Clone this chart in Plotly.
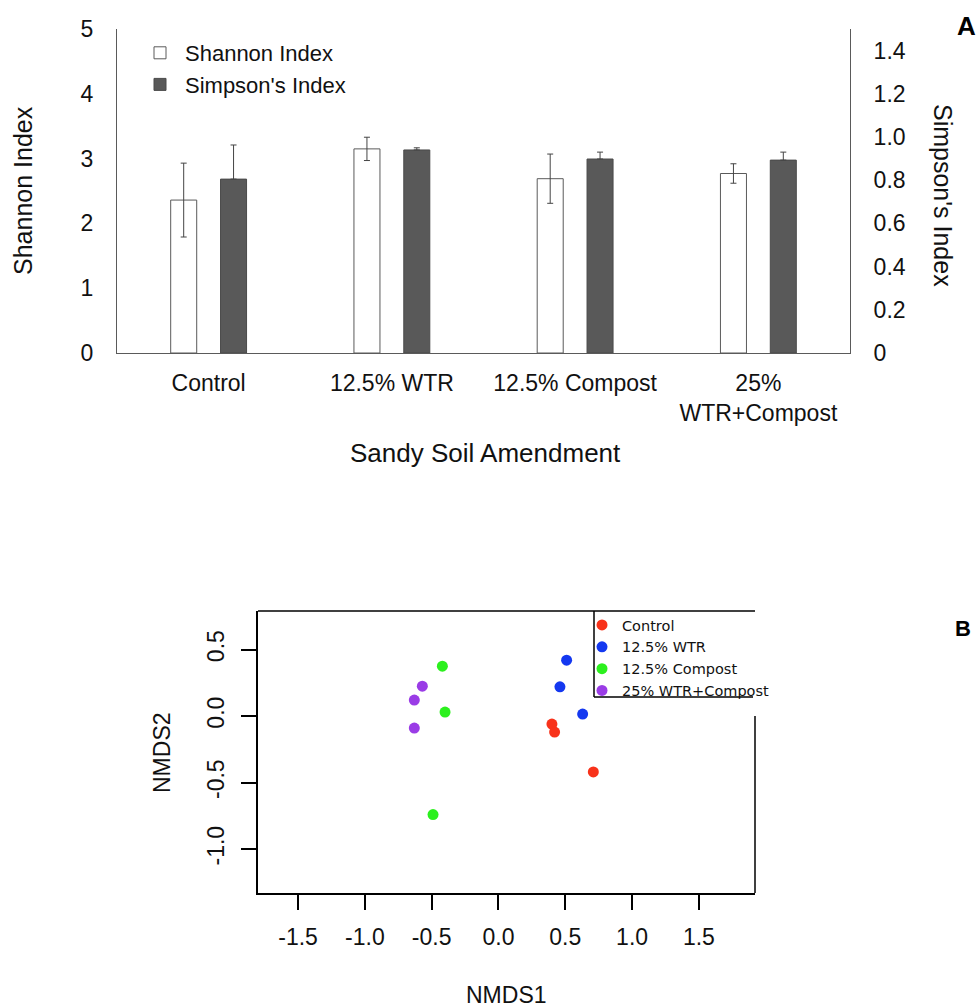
import plotly.graph_objects as go

# ---------------- Data: panel A ----------------
amendments = ["Control", "12.5% WTR", "12.5% Compost", "25% WTR+Compost"]
amendment_labels = ["Control", "12.5% WTR", "12.5% Compost", "25%<br>WTR+Compost"]
shannon = [2.36, 3.15, 2.69, 2.77]
shannon_err = [0.57, 0.18, 0.38, 0.15]
simpson = [0.805, 0.94, 0.898, 0.893]
simpson_err = [0.158, 0.01, 0.032, 0.037]
shannon_ticks = [0, 1, 2, 3, 4, 5]
simpson_ticks = [0, 0.2, 0.4, 0.6, 0.8, 1.0, 1.2, 1.4]
simpson_ticktext = ["0", "0.2", "0.4", "0.6", "0.8", "1.0", "1.2", "1.4"]

# ---------------- Data: panel B (NMDS) ----------------
groups = ["Control", "12.5% WTR", "12.5% Compost", "25% WTR+Compost"]
nmds1 = {
    "Control": [0.40, 0.42, 0.71],
    "12.5% WTR": [0.51, 0.46, 0.63],
    "12.5% Compost": [-0.42, -0.40, -0.49],
    "25% WTR+Compost": [-0.57, -0.63, -0.63],
}
nmds2 = {
    "Control": [-0.06, -0.12, -0.42],
    "12.5% WTR": [0.42, 0.22, 0.015],
    "12.5% Compost": [0.375, 0.03, -0.74],
    "25% WTR+Compost": [0.225, 0.12, -0.09],
}
group_colors = ["#f8321a", "#1438f0", "#2cf01e", "#9a3ce6"]
x_ticks = [-1.5, -1.0, -0.5, 0.0, 0.5, 1.0, 1.5]
x_ticktext = ["-1.5", "-1.0", "-0.5", "0.0", "0.5", "1.0", "1.5"]
y_ticks = [-1.0, -0.5, 0.0, 0.5]
y_ticktext = ["-1.0", "-0.5", "0.0", "0.5"]

W, H = 980, 1007
FONT = "Liberation Sans, Arial, sans-serif"
AX = "#5a5a5a"


def px_x(p):
    return p / W


def px_y(p):
    return 1 - p / H


fig = go.Figure()

# Panel A bars
fig.add_trace(go.Bar(
    x=amendments, y=shannon, name="Shannon Index",
    offset=-0.207, width=0.142,
    marker=dict(color="white", line=dict(color=AX, width=1)),
    error_y=dict(type="data", array=shannon_err, color="#444", thickness=1, width=3),
    xaxis="x", yaxis="y", legend="legend",
))
fig.add_trace(go.Bar(
    x=amendments, y=simpson, name="Simpson's Index",
    offset=0.065, width=0.142,
    marker=dict(color="#595959", line=dict(color="#4a4a4a", width=1)),
    error_y=dict(type="data", array=simpson_err, arrayminus=[0] * len(simpson_err),
                 symmetric=False, color="#444", thickness=1, width=3),
    xaxis="x", yaxis="y2", legend="legend",
))

# Panel B points
for g, c in zip(groups, group_colors):
    fig.add_trace(go.Scatter(
        x=nmds1[g], y=nmds2[g], mode="markers", name=g,
        marker=dict(color=c, size=11, line=dict(width=0)),
        xaxis="x2", yaxis="y3", legend="legend2",
    ))

tickfontA = dict(family=FONT, size=23, color="#111")
tickfontB = dict(family=FONT, size=23, color="#111")

fig.update_layout(
    template="none",
    width=W, height=H,
    margin=dict(l=0, r=0, t=0, b=0, autoexpand=False),
    paper_bgcolor="white", plot_bgcolor="rgba(0,0,0,0)",
    font=dict(family=FONT, color="#111"),
    barmode="overlay",
    xaxis=dict(
        domain=[px_x(117), px_x(850)], anchor="y", automargin=False,
        type="category", range=[-0.5, 3.5],
        tickvals=amendments, ticktext=amendment_labels,
        showline=True, linecolor=AX, linewidth=1, ticks="",
        showgrid=False, zeroline=False, tickfont=tickfontA,
        ticklabelstandoff=9,
    ),
    yaxis=dict(
        domain=[px_y(353), px_y(29)], anchor="x", automargin=False,
        range=[0, 5], tickvals=shannon_ticks,
        showline=True, linecolor=AX, linewidth=1, ticks="",
        showgrid=False, zeroline=False, tickfont=tickfontA,
        ticklabelstandoff=18,
    ),
    yaxis2=dict(
        overlaying="y", side="right", anchor="x", automargin=False,
        range=[0, 1.5], tickvals=simpson_ticks, ticktext=simpson_ticktext,
        showline=True, linecolor=AX, linewidth=1, ticks="",
        showgrid=False, zeroline=False, tickfont=tickfontA,
        ticklabelstandoff=18,
    ),
    xaxis2=dict(
        domain=[px_x(258), px_x(755)], anchor="y3", automargin=False,
        range=[-1.80, 1.92], tickvals=x_ticks, ticktext=x_ticktext,
        showline=True, linecolor="black", linewidth=1.5,
        ticks="outside", ticklen=15, tickwidth=1.5, tickcolor="black",
        showgrid=False, zeroline=False, tickfont=tickfontB,
        ticklabelstandoff=8,
    ),
    yaxis3=dict(
        domain=[px_y(893), px_y(611)], anchor="x2", automargin=False,
        range=[-1.33, 0.79], tickvals=y_ticks, ticktext=y_ticktext,
        tickangle=-90,
        showline=True, linecolor="black", linewidth=1.5,
        ticks="outside", ticklen=15, tickwidth=1.5, tickcolor="black",
        showgrid=False, zeroline=False, tickfont=tickfontB,
        ticklabelstandoff=8,
    ),
    legend=dict(
        x=px_x(135), y=px_y(32), xanchor="left", yanchor="top",
        bgcolor="rgba(0,0,0,0)", borderwidth=0,
        font=dict(family=FONT, size=22, color="#111"),
        itemwidth=40, tracegroupgap=0,
    ),
    legend2=dict(
        x=px_x(582), y=px_y(609), xanchor="left", yanchor="top",
        bgcolor="rgba(0,0,0,0)", borderwidth=0,
        font=dict(family="DejaVu Sans, sans-serif", size=14.5, color="#111"),
        itemwidth=30, tracegroupgap=0,
    ),
    showlegend=True,
)

# Axis titles and panel labels
annots = [
    dict(text="Shannon Index", x=px_x(23), y=px_y(191), textangle=-90,
         font=dict(family=FONT, size=25, color="#111")),
    dict(text="Simpson's Index", x=px_x(943), y=px_y(195), textangle=90,
         font=dict(family=FONT, size=25, color="#111")),
    dict(text="Sandy Soil Amendment", x=px_x(485), y=px_y(453),
         font=dict(family=FONT, size=26, color="#111")),
    dict(text="<b>A</b>", x=px_x(966), y=px_y(26),
         font=dict(family=FONT, size=26, color="black")),
    dict(text="NMDS2", x=px_x(162), y=px_y(753), textangle=-90,
         font=dict(family=FONT, size=23, color="#111")),
    dict(text="NMDS1", x=px_x(506), y=px_y(995),
         font=dict(family=FONT, size=23, color="#111")),
    dict(text="<b>B</b>", x=px_x(963), y=px_y(628),
         font=dict(family=FONT, size=22, color="black")),
]
for a in annots:
    a.update(xref="paper", yref="paper", showarrow=False,
             xanchor="center", yanchor="middle")
    fig.add_annotation(**a)

# Frame pieces of panel B (top, right part) and legend box lines
legend_left = (594 - 258) / (755 - 258)
legend_bottom = (893 - 697) / (893 - 611)
right_top = (893 - 716) / (893 - 611)
line = dict(color="black", width=1.5)
for x0, y0, x1, y1 in [
    (0, 1, 1, 1),
    (1, 0, 1, right_top),
    (legend_left, 1, legend_left, legend_bottom),
    (legend_left, legend_bottom, 0.996, legend_bottom),
]:
    fig.add_shape(type="line", xref="x2 domain", yref="y3 domain",
                  x0=x0, y0=y0, x1=x1, y1=y1, line=line)

fig.write_html(
    "out.html",
    config={"displayModeBar": False},
    post_script="document.body.style.margin='0';document.body.style.overflow='hidden';",
)
